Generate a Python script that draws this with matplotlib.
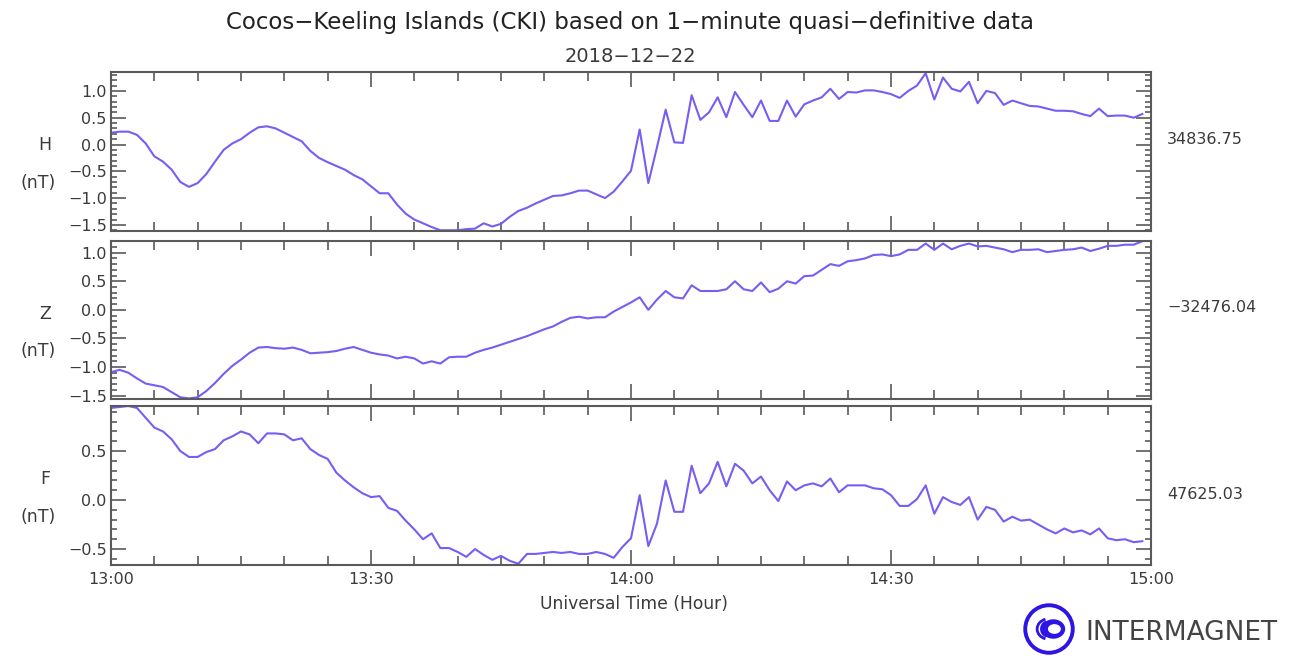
import numpy as np
import matplotlib.pyplot as plt
from matplotlib.patches import Circle, Ellipse, Arc
from matplotlib.ticker import MultipleLocator, FixedLocator

W, H = 1291, 658

# minutes after 13:00 UT, one value per minute (nT, baseline removed)
minutes = np.arange(120)

h_nt = [0.22, 0.24, 0.24, 0.18, 0.02, -0.22, -0.32, -0.47, -0.70, -0.79,
        -0.72, -0.55, -0.32, -0.10, 0.02, 0.10, 0.22, 0.32, 0.34, 0.30,
        0.22, 0.14, 0.06, -0.12, -0.25, -0.33, -0.40, -0.47, -0.57, -0.65,
        -0.78, -0.91, -0.91, -1.12, -1.29, -1.40, -1.47, -1.54, -1.60, -1.60,
        -1.60, -1.58, -1.57, -1.47, -1.53, -1.48, -1.35, -1.24, -1.18, -1.10,
        -1.03, -0.96, -0.95, -0.91, -0.86, -0.86, -0.93, -1.00, -0.88, -0.69,
        -0.49, 0.28, -0.72, -0.05, 0.65, 0.04, 0.03, 0.92, 0.46, 0.60,
        0.88, 0.51, 0.98, 0.74, 0.51, 0.82, 0.44, 0.44, 0.82, 0.52,
        0.75, 0.82, 0.88, 1.04, 0.85, 0.98, 0.97, 1.01, 1.01, 0.98,
        0.94, 0.87, 1.00, 1.10, 1.33, 0.84, 1.25, 1.04, 0.99, 1.17,
        0.77, 1.00, 0.96, 0.74, 0.82, 0.77, 0.72, 0.71, 0.67, 0.63,
        0.63, 0.62, 0.57, 0.53, 0.67, 0.53, 0.54, 0.54, 0.50, 0.57]

z_nt = [-1.09, -1.05, -1.10, -1.20, -1.29, -1.32, -1.35, -1.44, -1.53, -1.55,
        -1.53, -1.42, -1.28, -1.12, -0.98, -0.87, -0.75, -0.66, -0.65, -0.67,
        -0.68, -0.66, -0.70, -0.76, -0.75, -0.74, -0.72, -0.68, -0.65, -0.70,
        -0.75, -0.78, -0.80, -0.85, -0.82, -0.85, -0.94, -0.90, -0.94, -0.83,
        -0.82, -0.82, -0.75, -0.70, -0.66, -0.61, -0.56, -0.51, -0.46, -0.40,
        -0.34, -0.29, -0.21, -0.14, -0.12, -0.15, -0.13, -0.13, -0.03, 0.05,
        0.13, 0.22, 0.00, 0.18, 0.33, 0.22, 0.20, 0.43, 0.33, 0.33,
        0.33, 0.36, 0.50, 0.36, 0.33, 0.48, 0.31, 0.37, 0.50, 0.46,
        0.59, 0.60, 0.70, 0.80, 0.77, 0.85, 0.87, 0.90, 0.96, 0.97,
        0.94, 0.97, 1.05, 1.05, 1.16, 1.05, 1.16, 1.06, 1.12, 1.16,
        1.11, 1.12, 1.09, 1.06, 1.01, 1.05, 1.05, 1.06, 1.01, 1.03,
        1.05, 1.06, 1.09, 1.03, 1.07, 1.12, 1.12, 1.14, 1.14, 1.20]

f_nt = [0.94, 0.95, 0.96, 0.94, 0.84, 0.74, 0.70, 0.62, 0.50, 0.44,
        0.44, 0.49, 0.52, 0.61, 0.65, 0.70, 0.67, 0.58, 0.68, 0.68,
        0.67, 0.61, 0.63, 0.52, 0.46, 0.42, 0.28, 0.20, 0.13, 0.07,
        0.03, 0.04, -0.08, -0.11, -0.21, -0.30, -0.40, -0.34, -0.49, -0.49,
        -0.53, -0.58, -0.50, -0.56, -0.61, -0.57, -0.62, -0.65, -0.55, -0.55,
        -0.54, -0.53, -0.54, -0.53, -0.55, -0.55, -0.53, -0.55, -0.59, -0.48,
        -0.39, 0.05, -0.47, -0.24, 0.20, -0.12, -0.12, 0.35, 0.07, 0.17,
        0.39, 0.14, 0.37, 0.30, 0.17, 0.24, 0.10, -0.01, 0.19, 0.10,
        0.15, 0.17, 0.14, 0.22, 0.08, 0.15, 0.15, 0.15, 0.12, 0.11,
        0.05, -0.06, -0.06, 0.01, 0.15, -0.14, 0.03, -0.02, -0.05, 0.03,
        -0.20, -0.07, -0.10, -0.22, -0.17, -0.21, -0.20, -0.25, -0.30, -0.34,
        -0.29, -0.33, -0.31, -0.35, -0.29, -0.39, -0.41, -0.40, -0.43, -0.42]

components = ["H", "Z", "F"]
baselines = ["34836.75", "\u221232476.04", "47625.03"]
ylims = [(-1.614, 1.353), (-1.56, 1.205), (-0.663, 0.96)]
xtick_pos = [0, 30, 60, 90, 120]
xtick_labels = ["13:00", "13:30", "14:00", "14:30", "15:00"]

LINE = "#7a5cf2"
GREY = "#5a5a5a"
TXT = "#3a3a3a"


def fx(x):
    return x / W


def fy(y):
    return 1 - y / H


fig = plt.figure(figsize=(W / 100, H / 100), dpi=100)
plt.rcParams["font.family"] = "DejaVu Sans"

left, right = 111, 1151
boxes = [(72, 231), (241, 399), (406, 565)]
series = [h_nt, z_nt, f_nt]

for i, (top, bot) in enumerate(boxes):
    ax = fig.add_axes([fx(left), fy(bot), (right - left) / W, (bot - top) / H])
    ax.plot(minutes, series[i], color=LINE, lw=1.5)
    ax.set_xlim(0, 120)
    ax.set_ylim(*ylims[i])
    ax.xaxis.set_major_locator(FixedLocator(xtick_pos))
    ax.xaxis.set_minor_locator(MultipleLocator(5))
    ax.yaxis.set_major_locator(MultipleLocator(0.5))
    ax.yaxis.set_minor_locator(MultipleLocator(0.1))
    ax.tick_params(which="both", direction="in", top=True, right=True,
                   color=GREY, width=1.2, labelsize=11.5, labelcolor=TXT)
    ax.tick_params(axis="x", which="major", length=11)
    ax.tick_params(axis="x", which="minor", length=6.5)
    ax.tick_params(axis="y", which="major", length=11)
    ax.tick_params(axis="y", which="minor", length=4)
    ax.tick_params(axis="y", pad=3)
    for s in ax.spines.values():
        s.set_color(GREY)
        s.set_linewidth(1.5)
    if i < 2:
        ax.set_xticklabels([])
    else:
        ax.set_xticklabels(xtick_labels)
        ax.tick_params(axis="x", pad=5)
    mid = (top + bot) / 2
    fig.text(fx(45), fy(mid - 6), components[i], ha="center", va="center",
             fontsize=12.5, color=TXT)
    fig.text(fx(38), fy(mid + 31), "(nT)", ha="center", va="center",
             fontsize=12.5, color=TXT)
    fig.text(fx(1167), fy(mid - 12 if i != 2 else mid + 9), baselines[i],
             ha="left", va="center", fontsize=11.5, color=TXT)

fig.text(fx(630), fy(22), "Cocos\u2212Keeling Islands (CKI) based on 1\u2212minute quasi\u2212definitive data",
         ha="center", va="center", fontsize=16.5, color="#222222")
fig.text(fx(630), fy(57), "2018\u221212\u221222", ha="center", va="center",
         fontsize=14, color=TXT)
fig.text(fx(634), fy(604), "Universal Time (Hour)", ha="center", va="center",
         fontsize=12.3, color=TXT)

# INTERMAGNET logo
lg = fig.add_axes([fx(1022), fy(656), 54 / W, 54 / H])
lg.set_xlim(0, 1)
lg.set_ylim(0, 1)
lg.axis("off")
BLUE = "#2f14e6"
lg.add_patch(Circle((0.5, 0.5), 0.44, fill=False, ec=BLUE, lw=2.8))
lg.add_patch(Ellipse((0.58, 0.5), 0.44, 0.36, fc=BLUE, ec="none"))
lg.add_patch(Ellipse((0.6, 0.5), 0.24, 0.18, fc="white", ec="none"))
lg.add_patch(Arc((0.5, 0.5), 0.44, 0.38, theta1=110, theta2=250, color=BLUE, lw=2))
lg.add_patch(Arc((0.5, 0.5), 0.28, 0.28, theta1=110, theta2=250, color=BLUE, lw=2))
fig.text(fx(1085), fy(633), "INTERMAGNET", ha="left", va="center",
         fontsize=19, color="#444444")

fig.savefig("out.png", dpi=100)
